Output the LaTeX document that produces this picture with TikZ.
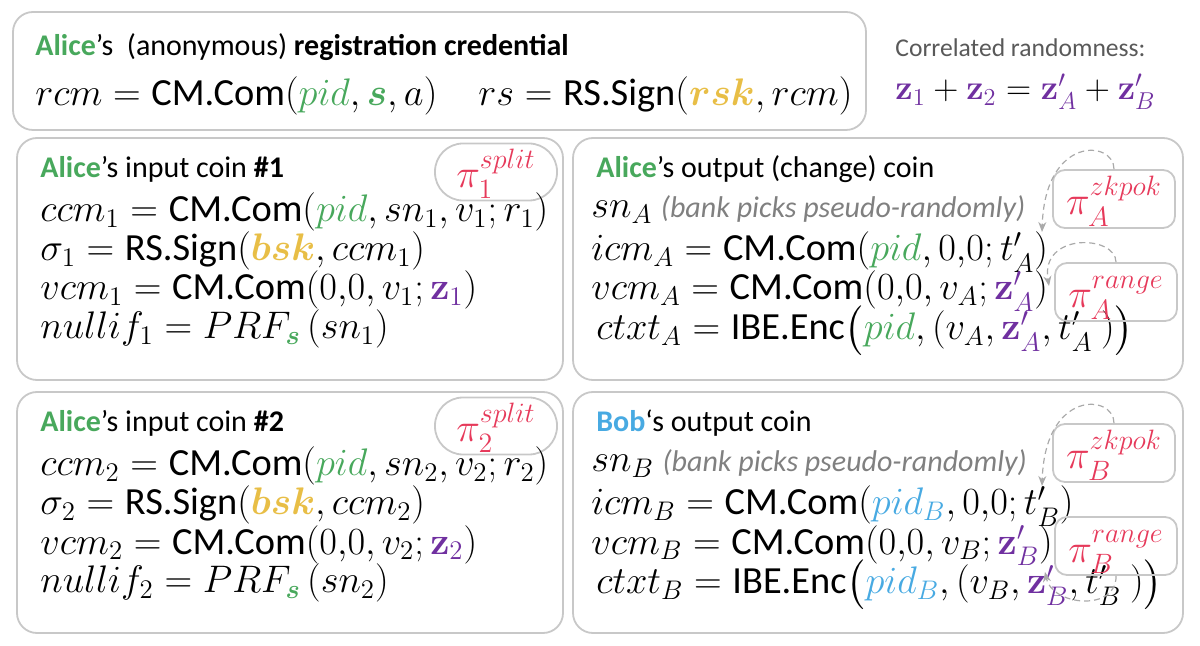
\RequirePackage{fix-cm}
\documentclass[tikz,border=0pt]{standalone}
\usepackage{amsmath}
\usepackage{bm}
\usepackage[no-math]{fontspec}
\setmainfont{Carlito}
\usetikzlibrary{arrows.meta}

\definecolor{alicegreen}{RGB}{72,168,92}
\definecolor{bobblue}{RGB}{72,170,226}
\definecolor{keygold}{RGB}{232,190,70}
\definecolor{zpurple}{RGB}{112,48,160}
\definecolor{pired}{RGB}{230,57,90}
\definecolor{framegray}{RGB}{200,200,200}
\definecolor{arrowgray}{RGB}{170,170,170}
\definecolor{hintgray}{RGB}{128,128,128}
\definecolor{textgray}{RGB}{89,89,89}

\newcommand{\eqsize}{\fontsize{19.2}{23}\selectfont}
\newcommand{\capsize}{\fontsize{15}{18}\selectfont}
\newcommand{\alice}{\textcolor{alicegreen}{\textbf{Alice}}}

\tikzset{
  panel/.style={draw=framegray, line width=0.9pt, rounded corners=10pt},
  pill/.style={draw=framegray, line width=0.9pt, rounded corners=14pt, minimum width=61pt, minimum height=28.5pt, inner sep=0pt, text height=20pt, text depth=4pt, text=pired, font=\fontsize{20}{24}\selectfont},
  proofbox/.style={draw=framegray, line width=0.9pt, rounded corners=6pt, minimum width=61pt, minimum height=29pt, inner sep=0pt, text height=20pt, text depth=4pt, text=pired, font=\fontsize{20}{24}\selectfont},
  eqline/.style={anchor=base west, inner sep=0pt, font=\eqsize},
  headline/.style={anchor=base west, inner sep=0pt, font=\capsize},
  hint/.style={draw=arrowgray, densely dashed, line width=0.6pt, -{Stealth[length=5pt,width=4pt]}},
}

\begin{document}
\begin{tikzpicture}[x=0.5pt, y=-0.5pt]
\useasboundingbox (0,0) rectangle (1200,646);

% frames
\draw[panel] (13,12) rectangle (866,130);
\draw[panel] (17,138) rectangle (563,380);
\draw[panel] (573,138) rectangle (1183,380);
\draw[panel] (17,392) rectangle (563,633);
\draw[panel] (573,392) rectangle (1183,633);

% registration credential
\node[headline] (regtitle) at (35,56) {\alice’s\ \ (anonymous) \textbf{registration credential}};
\node[eqline] (rcm) at (35,106) {$rcm = \text{CM.Com}(\textcolor{alicegreen}{pid}, \textcolor{alicegreen}{\bm{s}}, a)$};
\node[eqline] (rs) at (478,106) {$rs = \text{RS.Sign}(\textcolor{keygold}{\bm{rsk}}, rcm)$};

\node[headline, text=textgray, font=\fontsize{12.8}{15}\selectfont] (corrtitle) at (895,57) {Correlated randomness:};
\node[eqline, font=\fontsize{17.4}{21}\selectfont] (zsum) at (895,100) {$\textcolor{zpurple}{\mathbf{z}_1} + \textcolor{zpurple}{\mathbf{z}_2} = \textcolor{zpurple}{\mathbf{z}'_A} + \textcolor{zpurple}{\mathbf{z}'_B}$};

% input coin 1
\node[headline] (in1title) at (40,178) {\alice’s input coin \textbf{\#1}};
\node[pill] (split1) at (496,172) {$\pi_1^{split}$};
\node[eqline] (ccm1) at (40,222) {$ccm_1 = \text{CM.Com}(\textcolor{alicegreen}{pid}, sn_1, v_1; r_1)$};
\node[eqline] (sig1) at (40,261) {$\sigma_1 = \text{RS.Sign}(\textcolor{keygold}{\bm{bsk}}, ccm_1)$};
\node[eqline] (vcm1) at (40,300) {$vcm_1 = \text{CM.Com}(0{,}0, v_1; \textcolor{zpurple}{\mathbf{z}_1})$};
\node[eqline] (null1) at (40,339) {$nullif_1 = PRF_{\textcolor{alicegreen}{\bm{s}}}\,(sn_1)$};

% input coin 2
\node[headline] (in2title) at (40,432) {\alice’s input coin \textbf{\#2}};
\node[pill] (split2) at (496,426) {$\pi_2^{split}$};
\node[eqline] (ccm2) at (40,476) {$ccm_2 = \text{CM.Com}(\textcolor{alicegreen}{pid}, sn_2, v_2; r_2)$};
\node[eqline] (sig2) at (40,515) {$\sigma_2 = \text{RS.Sign}(\textcolor{keygold}{\bm{bsk}}, ccm_2)$};
\node[eqline] (vcm2) at (40,554) {$vcm_2 = \text{CM.Com}(0{,}0, v_2; \textcolor{zpurple}{\mathbf{z}_2})$};
\node[eqline] (null2) at (40,593) {$nullif_2 = PRF_{\textcolor{alicegreen}{\bm{s}}}\,(sn_2)$};

% change coin
\node[headline] (outAtitle) at (596,178) {\alice’s output (change) coin};
\node[eqline] (snA) at (591,218) {$sn_A$ {\capsize\itshape\color{hintgray}(bank picks pseudo-randomly)}};
\node[eqline] (icmA) at (591,261) {$icm_A = \text{CM.Com}(\textcolor{alicegreen}{pid}, 0{,}0; t'_A)$};
\node[eqline] (vcmA) at (591,300) {$vcm_A = \text{CM.Com}(0{,}0, v_A; \textcolor{zpurple}{\mathbf{z}'_A})$};
\node[eqline] (ctxtA) at (596,340) {$ctxt_A = \text{IBE.Enc}\big(\textcolor{alicegreen}{pid}, (v_A, \textcolor{zpurple}{\mathbf{z}'_A}, t'_A\ )\big)$};
\node[proofbox] (zkA) at (1114,199) {$\pi_A^{zkpok}$};
\node[proofbox] (rgA) at (1116,292) {$\pi_A^{range}$};
\coordinate (tipA1) at (1042,232);
\coordinate (tipA2) at (1049,286);
\draw[hint] (zkA.north) .. controls (1114,140) and (1045,135) .. (tipA1);
\draw[hint] (rgA.north) .. controls (1116,235) and (1040,232) .. (tipA2);

% Bob's coin
\node[headline] (outBtitle) at (596,432) {\textcolor{bobblue}{\textbf{Bob}}‘s output coin};
\node[eqline] (snB) at (591,472) {$sn_B$ {\capsize\itshape\color{hintgray}(bank picks pseudo-randomly)}};
\node[eqline] (icmB) at (591,515) {$icm_B = \text{CM.Com}(\textcolor{bobblue}{pid_B}, 0{,}0; t'_B)$};
\node[eqline] (vcmB) at (591,554) {$vcm_B = \text{CM.Com}(0{,}0, v_B; \textcolor{zpurple}{\mathbf{z}'_B})$};
\node[eqline] (ctxtB) at (596,594) {$ctxt_B = \text{IBE.Enc}\big(\textcolor{bobblue}{pid_B}, (v_B, \textcolor{zpurple}{\mathbf{z}'_B}, t'_B\ )\big)$};
\node[proofbox] (zkB) at (1114,453) {$\pi_B^{zkpok}$};
\node[proofbox] (rgB) at (1116,546) {$\pi_B^{range}$};
\coordinate (tipB1) at (1042,486);
\coordinate (tipB2) at (1045,572);
\draw[hint] (zkB.north) .. controls (1114,394) and (1045,389) .. (tipB1);
\draw[hint] (rgB.south) .. controls (1117,612) and (1052,606) .. (tipB2);
\end{tikzpicture}
\end{document}
